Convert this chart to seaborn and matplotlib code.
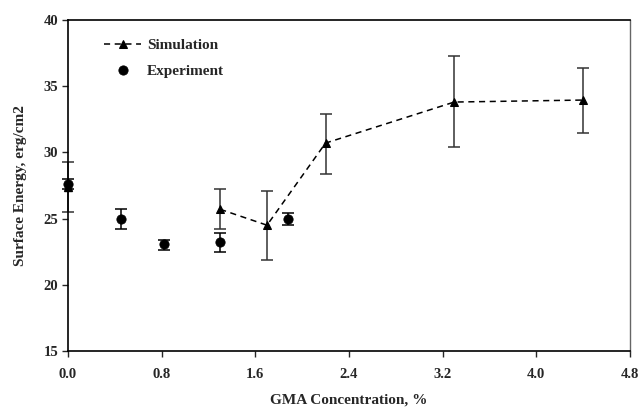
import numpy as np
import pandas as pd
import seaborn as sns
import matplotlib
matplotlib.use("Agg")
import matplotlib.pyplot as plt

# simulation data (triangles, dashed line)
sim_x = [1.3, 1.7, 2.2, 3.3, 4.4]
sim_y = [25.7, 24.5, 30.7, 33.8, 33.95]
sim_lo = [24.2, 21.9, 28.4, 30.4, 31.5]
sim_hi = [27.2, 27.1, 32.9, 37.25, 36.4]

# simulation point at zero concentration (not joined to the line)
sim0_x = [0.0]
sim0_y = [27.4]
sim0_lo = [25.5]
sim0_hi = [29.3]

# experiment data (circles)
exp_x = [0.0, 0.45, 0.82, 1.3, 1.88]
exp_y = [27.6, 25.0, 23.1, 23.2, 25.0]
exp_lo = [27.2, 24.2, 22.6, 22.5, 24.5]
exp_hi = [28.0, 25.7, 23.4, 23.9, 25.4]

sns.set_style("ticks")
plt.rcParams['font.family'] = ['Liberation Serif', 'DejaVu Serif']
plt.rcParams['font.weight'] = 'bold'

sim = pd.DataFrame({'x': sim_x, 'y': sim_y})
exp = pd.DataFrame({'x': exp_x, 'y': exp_y})

fig = plt.figure(figsize=(6.42, 4.07), dpi=100)
ax = fig.add_axes([0.106, 0.1376, 0.875, 0.8134])

# error bars
ax.errorbar(sim_x, sim_y,
            yerr=[np.subtract(sim_y, sim_lo), np.subtract(sim_hi, sim_y)],
            fmt='none', ecolor='#333333', elinewidth=1.1, capsize=4.5, capthick=1.1, zorder=2)
ax.errorbar(sim0_x, sim0_y,
            yerr=[np.subtract(sim0_y, sim0_lo), np.subtract(sim0_hi, sim0_y)],
            fmt='none', ecolor='#333333', elinewidth=1.1, capsize=4.5, capthick=1.1, zorder=2,
            clip_on=False)
ax.errorbar(exp_x, exp_y,
            yerr=[np.subtract(exp_y, exp_lo), np.subtract(exp_hi, exp_y)],
            fmt='none', ecolor='black', elinewidth=1.1, capsize=4.5, capthick=1.1, zorder=2,
            clip_on=False)

sns.lineplot(data=sim, x='x', y='y', ax=ax, color='black', linestyle=(0, (4, 3)),
             linewidth=1.1, marker='^', markersize=6, markeredgecolor='black',
             label='Simulation', zorder=3)
ax.plot(sim0_x, sim0_y, linestyle='none', marker='^', markersize=6, color='black',
        clip_on=False, zorder=3)
sns.scatterplot(data=exp, x='x', y='y', ax=ax, color='black', marker='o', s=45,
                edgecolor='black', label='Experiment', zorder=4, clip_on=False)

ax.set_xlim(0, 4.8)
ax.set_ylim(15, 40)
ax.set_xticks(np.arange(0, 4.81, 0.8))
ax.set_xticklabels(['0.0', '0.8', '1.6', '2.4', '3.2', '4.0', '4.8'])
ax.set_yticks(np.arange(15, 41, 5))
ax.tick_params(axis='x', direction='out', length=4, width=1, labelsize=10.5, pad=8)
ax.tick_params(axis='y', direction='out', length=4, width=1, labelsize=10.5, pad=3)
for lab in ax.get_xticklabels() + ax.get_yticklabels():
    lab.set_fontweight('bold')

ax.set_xlabel('GMA Concentration, %', fontsize=11, fontweight='bold', labelpad=9)
ax.set_ylabel('Surface Energy, erg/cm2', fontsize=11, fontweight='bold', labelpad=12)

for side in ['left', 'bottom', 'top']:
    ax.spines[side].set_color('black')
    ax.spines[side].set_linewidth(1.2)
ax.spines['right'].set_color('#666666')
ax.spines['right'].set_linewidth(1.0)

leg = ax.legend(loc='upper left', frameon=False, fontsize=11, bbox_to_anchor=(0.04, 0.985),
                handlelength=2.4, handletextpad=0.4, labelspacing=0.75)
for t in leg.get_texts():
    t.set_fontweight('bold')

fig.savefig('out.png', dpi=100)
